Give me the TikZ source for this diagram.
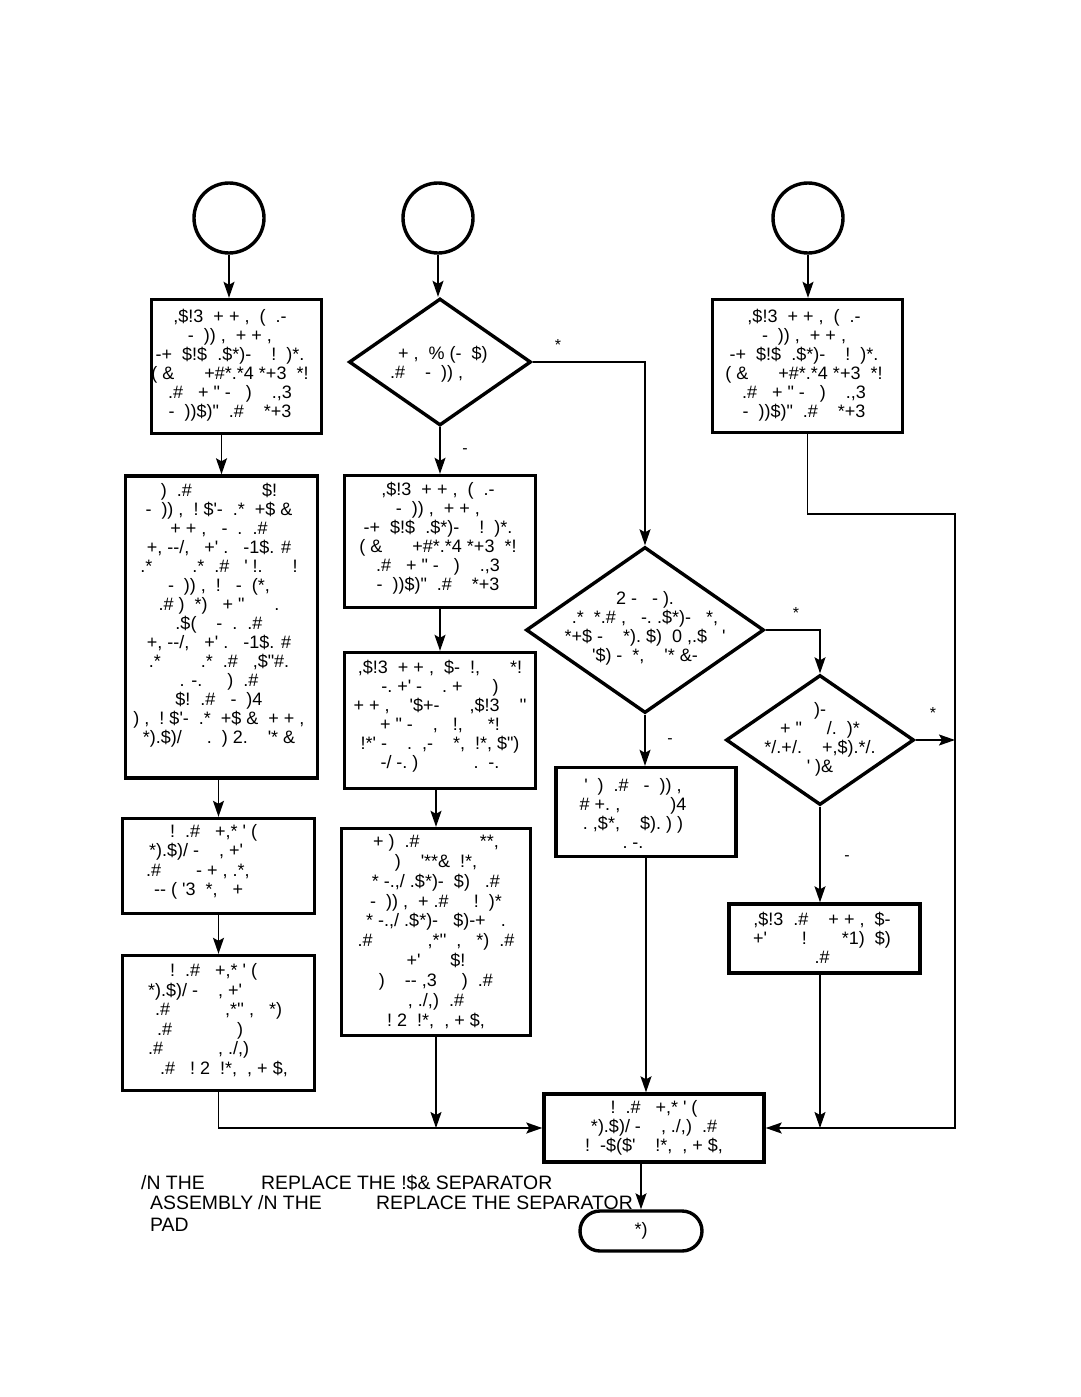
\documentclass[tikz,border=0pt]{standalone}
\usepackage{fontspec}
\setmainfont{Liberation Sans}[Ligatures=TeXOff]
\usetikzlibrary{arrows.meta,shapes.geometric,shapes.misc}
\newcommand\txtA{,\$!3~~+ + ,~~(~~.-\\{}-~~)) ,~~+ + ,\\{}-+~~\$!\$~~.\$*)-~~~~!~~)*.\\{}(~\&~~~~~~+\#*.*4 *+3~~*!\\{}.\#~~~+ " -~~~)~~~~.,3\\{}-~~))\$)"~~.\#~~~~*+3}
\begin{document}
\begin{tikzpicture}[x=1pt,y=-1pt,
  box/.style={draw, rectangle, line width=3.4pt, inner sep=0pt},
  circ/.style={draw, circle, line width=3.4pt, minimum size=70pt, inner sep=0pt},
  dia/.style={draw, diamond, line width=3.4pt, inner sep=0pt},
  term/.style={draw, rounded rectangle, line width=3.4pt, minimum width=122pt, minimum height=40pt, inner sep=0pt, font=\fontsize{18}{19}\selectfont},
  txt/.style={align=center, inner sep=0pt, font=\fontsize{18}{19}\selectfont},
  ltxt/.style={align=left, anchor=west, inner sep=0pt, font=\fontsize{18}{19.5}\selectfont},
  lbl/.style={inner sep=0pt, font=\fontsize{16}{16}\selectfont},
  free/.style={inner sep=0pt, anchor=base west, font=\fontsize{19.4}{20}\selectfont},
  conn/.style={line width=1.6pt},
  arr/.style={conn, -{Stealth[length=16pt,width=11pt,inset=3pt]}}]
\useasboundingbox (0,0) rectangle (1080,1397);

% circles
\node[circ] (c1) at (229,218) {};
\node[circ] (c2) at (438,218) {};
\node[circ] (c3) at (808,218) {};

% left column
\node[box, minimum width=170pt, minimum height=134pt] (b1) at (236.5,366.5) {};
\node[txt] (b1t) at (230,365) {\txtA};
\node[box, minimum width=192pt, minimum height=302pt] (b2) at (221.5,627) {};
\node[txt] (b2t) at (219,615) {)~~.\#~~~~~~~~~~~~~~\$!\\{}-~~)) ,~~!~\$'-~~.*~~+\$~\&\\{}+ + ,~~~-~~.~~.\#\\{}+, --/,~~~+' .~~~-1\$. \#\\{}.*~~~~~~~~.*~~.\#~~~' !.~~~~~~!\\{}-~~)) ,~~!~~~-~~(*,\\{}.\# )~~*)~~~+ "~~~~~~.\\{}.\$(~~~~-~~.~~.\#\\{}+, --/,~~~+' .~~~-1\$. \#\\{}.*~~~~~~~~.*~~.\#~~~,\$"\#.\\{}. -.~~~~~)~~.\#\\{}\$!~~.\#~~~-~~)4\\{}) ,~~!~\$'-~~.*~~+\$~\&~~+ + ,\\{}*).\$)/~~~~~.~~)~2.~~~~'*~\&};
\node[box, minimum width=192pt, minimum height=95pt] (b3) at (218.5,866) {};
\node[ltxt] (b3t) at (146,862) {\hspace*{24pt}!~~.\#~~~+,*~'~(\\{}\hspace*{3pt}*).\$)/~-~~~~,~+'\\{}.\#~~~~~~~-~+~,~.*,\\{}\hspace*{8pt}--~(~'3~~*,~~~+};
\node[box, minimum width=192pt, minimum height=135pt] (b4) at (218.5,1023) {};
\node[ltxt] (b4t) at (148,1020) {\hspace*{22pt}!~~.\#~~~+,*~'~(\\{}*).\$)/~-~~~~,~+'\\{}\hspace*{7pt}.\#~~~~~~~~~~~,*''~,~~~*)\\{}\hspace*{9pt}.\#~~~~~~~~~~~~~)\\{}.\#~~~~~~~~~~~, ./,)\\{}\hspace*{12pt}.\#~~~!~2~~!*,~~,~+~\$,};

% middle column
\node[dia, minimum width=182pt, minimum height=127pt] (d1) at (440,362) {};
\node[ltxt] (d1t) at (390,364) {\hspace*{8pt}+ ,~~\%~(-~~\$)\\{}.\#~~~~-~~)) ,};
\node[box, minimum width=191pt, minimum height=132pt] (m2) at (440,541.5) {};
\node[txt] (m2t) at (438,538.5) {\txtA};
\node[box, minimum width=191pt, minimum height=136pt] (m3) at (440,720.5) {};
\node[txt] (m3t) at (440,716) {,\$!3~~+ + ,~~\$-~~!,~~~~~~*!\\{}-.~+'~-~~~~.~+~~~~~~)\\{}+ + ,~~~~'\$+-~~~~~~,\$!3~~~~''\\{}+ "~-~~~~,~~~!,~~~~~*!\\{}!*'~-~~~~.~~,-~~~~*,~~!*,~\$")\\{}-/~-.~)~~~~~~~~~~~.~~-.};
\node[box, minimum width=189pt, minimum height=207pt] (m4) at (436,932) {};
\node[txt, font=\fontsize{18}{19.9}\selectfont] (m4t) at (436,931.5) {+~)~~.\#~~~~~~~~~~~~**,\\{})~~~~'**\&~~!*,\\{}*~-.,/~.\$*)-~~\$)~~~.\#\\{}-~~))~,~~+~.\#~~~~~!~~)*\\{}*~-.,/~.\$*)-~~~\$)-+~~~.\\{}.\#~~~~~~~~~~~,*''~~,~~~*)~~.\#\\{}+'~~~~~~\$!\\{})~~~~--~,3~~~~~)~~.\#\\{}, ./,)~~.\#\\{}!~2~~!*,~~,~+~\$,};

% centre-right column
\node[dia, minimum width=238pt, minimum height=166pt] (d2) at (645,630) {};
\node[txt] (d2t) at (645,628) {2~-~~~-~).\\{}.*~~*.\#~,~~~-.~.\$*)-~~~*,\\{}*+\$~-~~~~*).~\$)~~0~,.\$~~~'\\{}'\$)~-~~*,~~~~'*~\&-};
\node[box, minimum width=180pt, minimum height=89pt] (r1) at (646,812) {};
\node[txt] (r1t) at (633,813) {'~~)~~.\#~~~-~~))~,\\{}\#~+.~,~~~~~~~~~~)4\\{}.~,\$*,~~~~\$).~)~)\\{}.~-.};

% right column
\node[box, minimum width=190pt, minimum height=133pt] (rb1) at (807.5,366) {};
\node[txt] (rb1t) at (804,365) {\txtA};
\node[dia, minimum width=188pt, minimum height=130pt] (d3) at (820,740) {};
\node[txt] (d3t) at (820,739) {)-\\{}+~"~~~~~/.~~)*\\{}*/.+/.~~~~+,\$).*/.\\{}'~)\&};
\node[box, minimum width=191pt, minimum height=69pt] (rb2) at (824.5,938.5) {};
\node[txt] (rb2t) at (822,938) {,\$!3~~.\#~~~~+~+~,~~\$-\\{}+'~~~~~~~!~~~~~~~*1)~~\$)\\{}.\#};

% final
\node[box, minimum width=220pt, minimum height=68pt] (fb) at (654,1128) {};
\node[txt] (fbt) at (654,1127.5) {!~~.\#~~~+,*~'~(\\{}*).\$)/~-~~~~,~./,)~~.\#\\{}!~~-\$(\$'~~~~!*,~~,~+~\$,};
\node[term] (term) at (641,1231) {*)};

% branch labels
\node[lbl] (l1) at (558,345) {*};
\node[lbl] (l2) at (465,451) {-};
\node[lbl] (l3) at (796,613) {*};
\node[lbl] (l4) at (670,741) {-};
\node[lbl] (l5) at (933,713) {*};
\node[lbl] (l6) at (847,858) {-};

% free text
\node[free] (f1) at (141,1189) {/N THE};
\node[free] (f2) at (261,1189) {REPLACE THE !\$\& SEPARATOR};
\node[free] (f3) at (150,1209) {ASSEMBLY};
\node[free] (f4) at (258,1209) {/N THE};
\node[free] (f5) at (376,1209) {REPLACE THE SEPARATOR};
\node[free] (f6) at (150,1231) {PAD};

\coordinate (rt) at (955,514);

% connectors
\draw[arr] (c1.south) -- (c1.south |- b1.north);
\draw[arr] (b2.north |- b1.south) -- (b2.north);
\draw[arr] (b3.north |- b2.south) -- (b3.north);
\draw[arr] (b4.north |- b3.south) -- (b4.north);
\draw[arr] (b4.south) -- (b4.south |- fb.west) -- (fb.west);

\draw[arr] (c2.south) -- (c2.south |- d1.north);
\draw[arr] (d1.south) -- (m2.north);
\draw[arr] (m2.south) -- (m3.north);
\draw[arr] (m4.north |- m3.south) -- (m4.north);
\draw[arr] (m4.south) -- (m4.south |- fb.west);

\draw[arr] (d1.east) -- (d1.east -| d2.north) -- (d2.north);
\draw[arr] (d2.south) -- (d2.south |- r1.north);
\draw[arr] (r1.south) -- (r1.south |- fb.north);
\draw[arr] (d2.east) -- (d2.east -| d3.north) -- (d3.north);
\draw[arr] (d3.east) -- (d3.east -| rt);
\draw[arr] (d3.south) -- (d3.south |- rb2.north);
\draw[arr] (d3.south |- rb2.south) -- (d3.south |- fb.east);

\draw[arr] (c3.south) -- (c3.south |- rb1.north);
\draw[arr] (rb1.south) -- (rb1.south |- rt) -- (rt) -- (rt |- fb.east) -- (fb.east);

\draw[arr] (term.north |- fb.south) -- (term.north);
\end{tikzpicture}
\end{document}
